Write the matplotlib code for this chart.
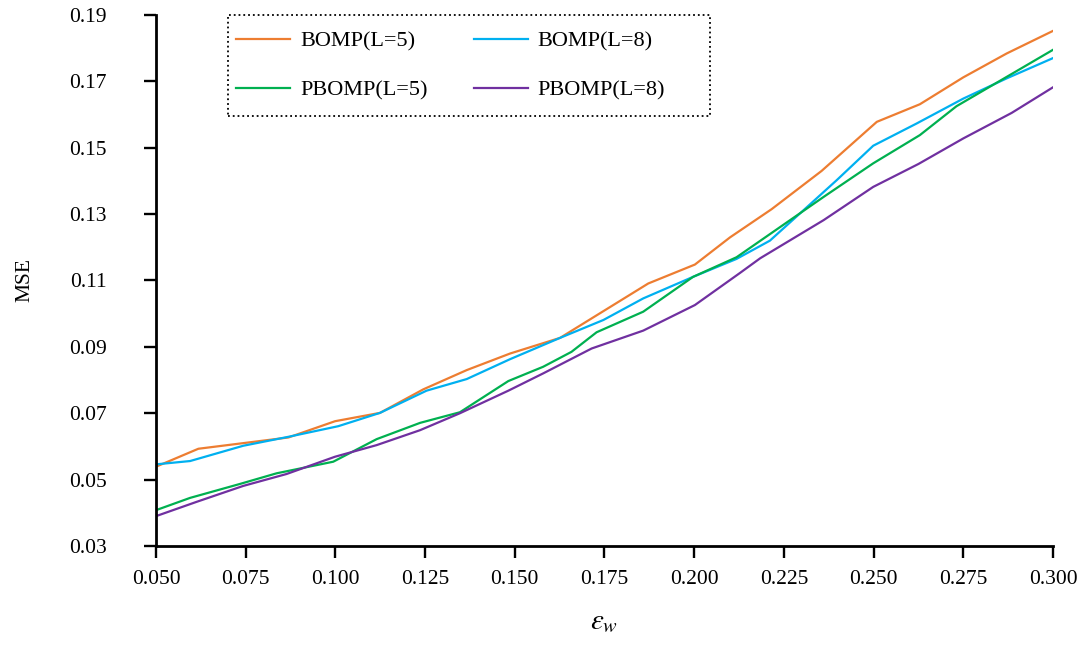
import numpy as np
import matplotlib
matplotlib.use("Agg")
import matplotlib.pyplot as plt
from matplotlib.patches import Rectangle

# datos (cada serie con sus propios vertices)
x_bomp5 = [0.050, 0.0618, 0.0869, 0.0999, 0.1124, 0.1245, 0.1366, 0.1487, 0.1626,
           0.1872, 0.2002, 0.2100, 0.2216, 0.2355, 0.2509, 0.2629, 0.2750, 0.2871, 0.300]
y_bomp5 = [0.0539, 0.0593, 0.0627, 0.0676, 0.0701, 0.0772, 0.0830, 0.0880, 0.0927,
           0.1091, 0.1148, 0.1230, 0.1315, 0.1430, 0.1578, 0.1631, 0.1712, 0.1784, 0.1852]

x_bomp8 = [0.050, 0.0595, 0.0743, 0.0869, 0.1008, 0.1124, 0.1254, 0.1366, 0.1487,
           0.1626, 0.1747, 0.1858, 0.1997, 0.2118, 0.2211, 0.2397, 0.2499, 0.2620,
           0.2750, 0.2871, 0.300]
y_bomp8 = [0.0546, 0.0556, 0.0602, 0.0629, 0.0661, 0.0701, 0.0768, 0.0803, 0.0863,
           0.0927, 0.0981, 0.1046, 0.1111, 0.1165, 0.1220, 0.1402, 0.1506, 0.1573,
           0.1648, 0.1709, 0.1770]

x_pbomp5 = [0.050, 0.0595, 0.0734, 0.0836, 0.0994, 0.1115, 0.1236, 0.1347, 0.1482,
            0.1579, 0.1658, 0.1728, 0.1858, 0.1997, 0.2118, 0.2361, 0.2499, 0.2629,
            0.2731, 0.300]
y_pbomp5 = [0.0408, 0.0445, 0.0487, 0.0519, 0.0554, 0.0622, 0.0671, 0.0703, 0.0797,
            0.0840, 0.0885, 0.0944, 0.1006, 0.1111, 0.1170, 0.1352, 0.1453, 0.1538,
            0.1625, 0.1795]

x_pbomp8 = [0.050, 0.0613, 0.0743, 0.0864, 0.0999, 0.1115, 0.1236, 0.1347, 0.1482,
            0.1579, 0.1714, 0.1858, 0.2002, 0.2128, 0.2184, 0.2361, 0.2499, 0.2625,
            0.2750, 0.2885, 0.300]
y_pbomp8 = [0.0390, 0.0433, 0.0481, 0.0517, 0.0569, 0.0604, 0.0649, 0.0700, 0.0768,
            0.0820, 0.0895, 0.0949, 0.1026, 0.1123, 0.1167, 0.1282, 0.1382, 0.1451,
            0.1528, 0.1605, 0.1682]

x_ticks = [0.050, 0.075, 0.100, 0.125, 0.150, 0.175, 0.200, 0.225, 0.250, 0.275, 0.300]
y_ticks = [0.03, 0.05, 0.07, 0.09, 0.11, 0.13, 0.15, 0.17, 0.19]

plt.rcParams['font.family'] = 'Liberation Serif'
plt.rcParams['mathtext.fontset'] = 'stix'

fig = plt.figure(figsize=(10.88, 6.48), dpi=100)
ax = fig.add_axes([0.1434, 0.1574, 0.8244, 0.8195])

l1, = ax.plot(x_bomp5, y_bomp5, color='#ED7D31', lw=1.6, label='BOMP(L=5)')
l2, = ax.plot(x_bomp8, y_bomp8, color='#00B0F0', lw=1.6, label='BOMP(L=8)')
l3, = ax.plot(x_pbomp5, y_pbomp5, color='#00B050', lw=1.6, label='PBOMP(L=5)')
l4, = ax.plot(x_pbomp8, y_pbomp8, color='#7030A0', lw=1.6, label='PBOMP(L=8)')

ax.set_xlim(0.05, 0.30)
ax.set_ylim(0.03, 0.19)
ax.set_xticks(x_ticks)
ax.set_xticklabels(['%.3f' % v for v in x_ticks])
ax.set_yticks(y_ticks)
ax.set_yticklabels(['%.2f' % v for v in y_ticks])
ax.tick_params(axis='both', labelsize=15.5, width=1.7, length=8.5, direction='out')
ax.tick_params(axis='y', pad=27)
ax.tick_params(axis='x', pad=9)

for s in ['top', 'right']:
    ax.spines[s].set_visible(False)
for s in ['left', 'bottom']:
    ax.spines[s].set_linewidth(2)

ax.set_ylabel('MSE', fontsize=15.5, labelpad=25)
ax.set_xlabel(r'$\varepsilon_w$', fontsize=21, labelpad=14)

# recuadro punteado de la leyenda
ax.add_patch(Rectangle((0.0803, 0.8098), 0.5373, 0.1902, transform=ax.transAxes,
                       fill=False, edgecolor='black', linestyle=':', linewidth=1.3,
                       clip_on=False, zorder=5))

# orden por filas: BOMP en la primera, PBOMP en la segunda
leg = ax.legend([l1, l3, l2, l4], ['BOMP(L=5)', 'PBOMP(L=5)', 'BOMP(L=8)', 'PBOMP(L=8)'],
                ncol=2, loc='upper left', bbox_to_anchor=(0.077, 0.99), fontsize=16,
                frameon=False, handlelength=2.43, columnspacing=2.07,
                borderpad=0, labelspacing=1.25, handletextpad=0.45)

fig.savefig('out.png', dpi=100)
